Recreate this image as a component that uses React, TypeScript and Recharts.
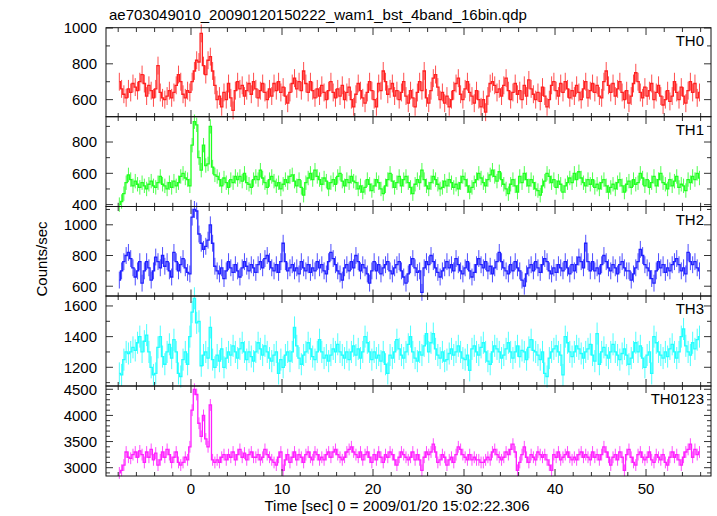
import React from 'react';
import { ComposedChart, Line, ErrorBar, XAxis, YAxis } from 'recharts';

const TITLE = 'ae703049010_20090120150222_wam1_bst_4band_16bin.qdp';
const X_LABEL = 'Time [sec] 0 = 2009/01/20 15:02:22.306';
const Y_LABEL = 'Counts/sec';

const BIN_START = -7.875;
const BIN_WIDTH = 0.25;
const X_DOMAIN = [-9.34, 57.14];
const X_TICKS = [-8, -6, -4, -2, 0, 2, 4, 6, 8, 10, 12, 14, 16, 18, 20, 22, 24, 26, 28, 30, 32, 34, 36, 38, 40, 42, 44, 46, 48, 50, 52, 54, 56];
const X_TICK_LABELS = [0, 10, 20, 30, 40, 50];

const PANEL_NAMES = ['TH0', 'TH1', 'TH2', 'TH3', 'TH0123'];
const PANEL_COLORS = ['#ff2020', '#20ff20', '#2020ff', '#20ffff', '#ff20ff'];
const PANEL_ERRORS = [50, 46, 55, 72, 113];

const TH0_DOMAIN = [503, 1000];
const TH1_DOMAIN = [386, 960];
const TH2_DOMAIN = [533, 1116];
const TH3_DOMAIN = [1078, 1665];
const TH0123_DOMAIN = [2841, 4563];

const TH0_TICKS = [600, 700, 800, 900, 1000];
const TH1_TICKS = [400, 500, 600, 700, 800, 900];
const TH2_TICKS = [600, 700, 800, 900, 1000, 1100];
const TH3_TICKS = [1100, 1200, 1300, 1400, 1500, 1600];
const TH0123_TICKS = [2900, 3000, 3100, 3200, 3300, 3400, 3500, 3600, 3700, 3800, 3900, 4000, 4100, 4200, 4300, 4400, 4500];

const TH0_LABELS = [600, 800, 1000];
const TH1_LABELS = [400, 600, 800];
const TH2_LABELS = [600, 800, 1000];
const TH3_LABELS = [1200, 1400, 1600];
const TH0123_LABELS = [3000, 3500, 4000, 4500];

const TH0 = [
  700, 660, 630, 610, 660, 640, 690, 670, 650, 700, 740, 690, 620, 680, 650, 610,
  660, 790, 640, 610, 600, 620, 650, 610, 640, 680, 740, 700, 630, 610, 650, 640,
  700, 760, 820, 810, 970, 790, 740, 820, 840, 760, 680, 600, 620, 560, 640, 600,
  690, 610, 540, 650, 700, 660, 680, 620, 650, 690, 630, 700, 660, 610, 650, 690,
  640, 600, 660, 620, 690, 650, 700, 640, 670, 620, 580, 640, 690, 720, 660, 700,
  650, 760, 690, 640, 700, 650, 610, 660, 620, 680, 640, 600, 650, 700, 640, 610,
  660, 620, 680, 600, 640, 670, 600, 560, 630, 690, 650, 610, 580, 640, 700, 650,
  600, 560, 690, 650, 760, 700, 630, 660, 690, 620, 650, 600, 640, 700, 620, 580,
  650, 610, 560, 640, 700, 650, 760, 610, 580, 650, 720, 740, 670, 600, 640, 580,
  620, 560, 600, 650, 690, 720, 630, 600, 660, 700, 640, 620, 580, 650, 600, 560,
  600, 530, 620, 690, 700, 680, 640, 660, 620, 680, 720, 650, 600, 640, 690, 630,
  650, 600, 680, 620, 710, 660, 630, 600, 640, 590, 670, 620, 560, 600, 680, 700,
  650, 620, 690, 640, 700, 660, 610, 650, 620, 680, 640, 600, 660, 700, 610, 650,
  690, 640, 680, 620, 610, 700, 760, 680, 640, 690, 620, 660, 700, 640, 600, 650,
  580, 620, 690, 750, 700, 640, 610, 670, 620, 650, 690, 600, 640, 680, 620, 570,
  600, 650, 590, 620, 700, 640, 600, 670, 620, 580, 650, 700, 640, 690, 610, 640,
];

const TH1 = [
  400, 420, 470, 540, 590, 560, 520, 550, 530, 510, 540, 520, 500, 530, 550, 520,
  510, 540, 580, 530, 520, 500, 540, 510, 550, 520, 540, 580, 600, 570, 560, 520,
  780, 930, 910, 700, 620, 780, 650, 660, 900, 640, 590, 580, 560, 520, 570, 540,
  510, 560, 540, 580, 560, 580, 550, 600, 540, 530, 510, 560, 580, 560, 620, 570,
  540, 510, 560, 580, 550, 520, 540, 500, 530, 560, 540, 580, 590, 550, 520, 560,
  510, 460, 540, 570, 600, 560, 620, 580, 560, 530, 570, 550, 500, 540, 560, 530,
  580, 600, 550, 520, 560, 540, 580, 550, 540, 500, 520, 480, 510, 560, 530, 490,
  520, 560, 540, 500, 470, 520, 560, 600, 550, 510, 540, 580, 520, 560, 580, 540,
  510, 470, 530, 560, 540, 620, 560, 520, 500, 540, 580, 560, 530, 500, 510, 550,
  520, 560, 540, 510, 530, 500, 540, 580, 560, 520, 480, 510, 540, 560, 600, 570,
  540, 520, 560, 590, 620, 580, 550, 610, 560, 530, 500, 470, 530, 560, 520, 480,
  580, 540, 600, 560, 520, 560, 540, 500, 490, 460, 520, 550, 600, 580, 540, 560,
  510, 550, 530, 480, 520, 540, 570, 540, 600, 560, 610, 570, 540, 520, 560, 530,
  560, 510, 530, 500, 540, 560, 520, 480, 510, 530, 500, 540, 560, 520, 480, 530,
  550, 510, 560, 530, 540, 600, 570, 520, 560, 510, 540, 580, 520, 560, 600, 540,
  530, 500, 560, 520, 550, 580, 510, 530, 520, 490, 560, 540, 580, 560, 600, 570,
];

const TH2 = [
  640, 700, 760, 800, 820, 780, 720, 660, 700, 760, 620, 700, 760, 720, 640, 700,
  790, 760, 720, 800, 730, 760, 700, 660, 820, 760, 700, 740, 780, 720, 690, 680,
  1050, 1100, 1090, 940, 880, 840, 860, 900, 1000, 880, 730, 700, 680, 720, 650, 700,
  760, 720, 690, 740, 700, 660, 720, 760, 730, 700, 740, 720, 690, 740, 760, 720,
  780, 800, 760, 720, 700, 740, 690, 760, 880, 760, 700, 720, 740, 700, 720, 680,
  760, 720, 700, 740, 690, 720, 700, 760, 720, 740, 700, 680, 760, 820, 780, 740,
  700, 680, 640, 720, 740, 700, 760, 720, 800, 760, 700, 740, 720, 680, 620, 700,
  760, 700, 740, 680, 720, 740, 760, 700, 680, 720, 740, 760, 700, 660, 620, 680,
  740, 780, 720, 690, 700, 560, 720, 760, 740, 800, 760, 720, 690, 660, 700, 720,
  760, 720, 740, 700, 780, 740, 700, 680, 720, 760, 700, 660, 690, 740, 780, 740,
  720, 760, 700, 730, 680, 720, 760, 820, 760, 720, 700, 680, 740, 700, 760, 720,
  700, 640, 600, 680, 720, 740, 700, 760, 720, 690, 740, 780, 760, 700, 680, 720,
  690, 740, 720, 700, 760, 720, 680, 740, 700, 740, 790, 760, 720, 880, 760, 700,
  760, 700, 720, 680, 740, 800, 760, 720, 700, 740, 720, 680, 740, 760, 720, 700,
  700, 640, 680, 720, 760, 840, 800, 740, 720, 700, 650, 620, 700, 760, 720, 740,
  690, 720, 700, 740, 760, 780, 740, 700, 720, 680, 820, 760, 740, 760, 720, 700,
];

const TH3 = [
  1160, 1150, 1250, 1300, 1290, 1300, 1330, 1310, 1360, 1400, 1300, 1370, 1410, 1300, 1200, 1150,
  1160, 1330, 1400, 1270, 1220, 1300, 1350, 1260, 1380, 1300, 1160, 1140, 1250, 1300, 1220, 1400,
  1560, 1650, 1490, 1500, 1210, 1280, 1300, 1260, 1460, 1250, 1200, 1280, 1240, 1320, 1200, 1260,
  1300, 1280, 1340, 1300, 1260, 1320, 1360, 1300, 1250, 1300, 1270, 1240, 1300, 1360, 1320, 1280,
  1340, 1300, 1260, 1240, 1280, 1300, 1160, 1250, 1200, 1280, 1300, 1240, 1300, 1460, 1340, 1260,
  1220, 1280, 1300, 1360, 1320, 1270, 1250, 1300, 1380, 1300, 1260, 1280, 1240, 1280, 1320, 1300,
  1350, 1300, 1280, 1260, 1300, 1250, 1300, 1340, 1280, 1320, 1260, 1300, 1400, 1360, 1300, 1250,
  1300, 1260, 1280, 1240, 1300, 1220, 1160, 1280, 1260, 1300, 1380, 1320, 1280, 1260, 1300, 1350,
  1400, 1300, 1260, 1240, 1300, 1280, 1340, 1420, 1300, 1360, 1420, 1320, 1280, 1260, 1300, 1240,
  1250, 1290, 1320, 1280, 1300, 1340, 1300, 1260, 1250, 1280, 1180, 1320, 1340, 1300, 1280, 1330,
  1360, 1300, 1240, 1220, 1300, 1340, 1320, 1300, 1260, 1280, 1320, 1360, 1300, 1260, 1300, 1340,
  1270, 1310, 1300, 1250, 1330, 1380, 1310, 1300, 1280, 1250, 1300, 1160, 1140, 1260, 1300, 1320,
  1340, 1300, 1280, 1150, 1400, 1360, 1300, 1270, 1300, 1340, 1320, 1290, 1260, 1300, 1320, 1350,
  1280, 1240, 1420, 1220, 1300, 1330, 1280, 1260, 1300, 1350, 1300, 1280, 1250, 1290, 1320, 1280,
  1220, 1260, 1300, 1360, 1300, 1340, 1260, 1200, 1280, 1300, 1160, 1400, 1360, 1300, 1280, 1260,
  1300, 1270, 1320, 1350, 1300, 1260, 1300, 1400, 1450, 1340, 1300, 1280, 1360, 1320, 1380, 1400,
];

const TH0123 = [
  2900, 2950, 3050, 3300, 3200, 3180, 3250, 3300, 3200, 3320, 3250, 3100, 3300, 3200, 3350, 3150,
  3280, 3050, 3150, 3300, 3200, 3350, 3250, 3100, 3200, 3300, 3100, 3050, 3100, 3200, 3150, 3400,
  4100, 4500, 4400, 3850, 3600, 4000, 3550, 3400, 4200, 3150, 3100, 3150, 3100, 3200, 3250, 3150,
  3250, 3200, 3300, 3150, 3250, 3350, 3200, 3280, 3150, 3250, 3300, 3200, 3200, 3250, 3150, 3200,
  3350, 3250, 3200, 3150, 3100, 3050, 3200, 3300, 2950, 3150, 3250, 3100, 3200, 3300, 3150, 3250,
  3200, 3100, 3250, 3300, 3200, 3150, 3300, 3250, 3150, 3200, 3150, 3250, 3300, 3200, 3300, 3350,
  3250, 3200, 3150, 3200, 3300, 3350, 3400, 3300, 3250, 3200, 3300, 3150, 3250, 3300, 3200, 3100,
  3250, 3150, 3300, 3200, 3100, 3250, 3200, 3300, 3250, 3150, 3050, 3200, 3300, 3250, 3200, 3150,
  3200, 3300, 3150, 3250, 3150, 2950, 3200, 3300, 3250, 3300, 3450, 3300, 3100, 3150, 3250, 3200,
  3050, 3150, 3200, 3100, 3250, 3400, 3350, 3250, 3200, 3150, 3250, 3150, 3200, 3150, 3150, 3100,
  3100, 3150, 3200, 3150, 3300, 3350, 3250, 3200, 3150, 3200, 3300, 3250, 3350, 3450, 3300, 2950,
  3100, 3250, 3400, 3200, 3100, 3250, 3200, 3150, 3300, 3250, 3200, 3250, 3150, 3050, 2950, 3250,
  3200, 3300, 3150, 3200, 3250, 3300, 3200, 3150, 3200, 3150, 3250, 3300, 3200, 3250, 3200, 3150,
  3300, 3200, 3250, 3150, 3250, 3400, 3300, 3200, 3050, 3200, 3250, 3150, 3300, 3200, 2950, 3250,
  3350, 3200, 3100, 3050, 3250, 3300, 3200, 3150, 3200, 3300, 3150, 3100, 3250, 3200, 3150, 3250,
  3100, 3050, 3200, 3300, 3200, 3250, 3150, 3050, 3200, 3300, 3350, 3450, 3200, 3350, 3250, 3300,
];

const SERIES = [TH0, TH1, TH2, TH3, TH0123];
const DOMAINS = [TH0_DOMAIN, TH1_DOMAIN, TH2_DOMAIN, TH3_DOMAIN, TH0123_DOMAIN];
const Y_TICKS = [TH0_TICKS, TH1_TICKS, TH2_TICKS, TH3_TICKS, TH0123_TICKS];
const Y_LABELS = [TH0_LABELS, TH1_LABELS, TH2_LABELS, TH3_LABELS, TH0123_LABELS];

// layout
const W = 717;
const H = 516;
const PLOT_LEFT = 106;
const PLOT_RIGHT = 711;
const PANEL_EDGES = [27.7, 116.7, 206.5, 296, 386, 476];
const PAD = 12;
const BOTTOM_EXTRA = 30;
const Y_AXIS_W = 60;
const FONT = '"Liberation Sans", Arial, Helvetica, sans-serif';
const FRAME = '#111';
const TICK = '#333';
const MAJOR = 7;
const MINOR = 4;

function Panel({ idx }: { idx: number }) {
  const top = PANEL_EDGES[idx];
  const bottom = PANEL_EDGES[idx + 1];
  const ph = bottom - top;
  const last = idx === SERIES.length - 1;
  const chartH = ph + PAD * 2 + (last ? BOTTOM_EXTRA : 0);
  const plotTop = PAD;
  const plotBottom = PAD + ph;
  const color = PANEL_COLORS[idx];
  const err = PANEL_ERRORS[idx];
  const data = SERIES[idx].map((v, i) => ({ t: BIN_START + i * BIN_WIDTH, v, e: err }));
  const labels = Y_LABELS[idx];

  const xBottomTick = (p: any) => {
    const val = p.payload.value;
    const major = X_TICK_LABELS.includes(val);
    const len = major ? MAJOR : MINOR;
    const x = p.payload.coordinate ?? p.x;
    return (
      <g>
        <path d={`M${x},${plotBottom}V${plotBottom - len}`} stroke={TICK} strokeWidth={1} fill="none" />
        {last && major ? (
          <text x={x} y={plotBottom + 18} textAnchor="middle" fontSize={15} fontFamily={FONT} fill="#000">
            {val}
          </text>
        ) : null}
      </g>
    );
  };
  const xTopTick = (p: any) => {
    const val = p.payload.value;
    const len = X_TICK_LABELS.includes(val) ? MAJOR : MINOR;
    const x = p.payload.coordinate ?? p.x;
    return <path d={`M${x},${plotTop}V${plotTop + len}`} stroke={TICK} strokeWidth={1} fill="none" />;
  };
  const yLeftTick = (p: any) => {
    const val = p.payload.value;
    const major = labels.includes(val);
    const len = major ? MAJOR : MINOR;
    const y = p.payload.coordinate ?? p.y;
    return (
      <g>
        <path d={`M${PLOT_LEFT},${y}H${PLOT_LEFT + len}`} stroke={TICK} strokeWidth={1} fill="none" />
        {major ? (
          <text x={PLOT_LEFT - 9} y={y} dy="0.36em" textAnchor="end" fontSize={15} fontFamily={FONT} fill="#000">
            {val}
          </text>
        ) : null}
      </g>
    );
  };
  const yRightTick = (p: any) => {
    const val = p.payload.value;
    const len = labels.includes(val) ? MAJOR : MINOR;
    const y = p.payload.coordinate ?? p.y;
    return <path d={`M${PLOT_RIGHT},${y}H${PLOT_RIGHT - len}`} stroke={TICK} strokeWidth={1} fill="none" />;
  };

  return (
    <div style={{ position: 'absolute', left: 0, top: top - PAD, width: W, height: chartH }}>
      <ComposedChart
        width={W}
        height={chartH}
        data={data}
        margin={{ top: PAD - 1, right: W - PLOT_RIGHT - 1, bottom: PAD - 1 + (last ? BOTTOM_EXTRA : 0), left: PLOT_LEFT - Y_AXIS_W }}
      >
        <XAxis
          xAxisId="b"
          dataKey="t"
          type="number"
          domain={X_DOMAIN}
          allowDataOverflow
          ticks={X_TICKS}
          interval={0}
          height={1}
          orientation="bottom"
          axisLine={false}
          tickLine={false}
          tick={xBottomTick}
        />
        <XAxis
          xAxisId="t"
          dataKey="t"
          type="number"
          domain={X_DOMAIN}
          allowDataOverflow
          ticks={X_TICKS}
          interval={0}
          height={1}
          orientation="top"
          axisLine={false}
          tickLine={false}
          tick={xTopTick}
        />
        <YAxis
          yAxisId="l"
          type="number"
          domain={DOMAINS[idx]}
          allowDataOverflow
          ticks={Y_TICKS[idx]}
          interval={0}
          width={Y_AXIS_W}
          orientation="left"
          axisLine={false}
          tickLine={false}
          tick={yLeftTick}
        />
        <YAxis
          yAxisId="r"
          type="number"
          domain={DOMAINS[idx]}
          allowDataOverflow
          ticks={Y_TICKS[idx]}
          interval={0}
          width={1}
          orientation="right"
          axisLine={false}
          tickLine={false}
          tick={yRightTick}
        />
        <Line
          xAxisId="b"
          yAxisId="l"
          dataKey="v"
          type="step"
          stroke={color}
          strokeWidth={1.3}
          dot={false}
          activeDot={false}
          isAnimationActive={false}
        >
          <ErrorBar dataKey="e" width={0} stroke={color} strokeWidth={1} strokeOpacity={0.8} direction="y" />
        </Line>
      </ComposedChart>
    </div>
  );
}

export default function App() {
  return (
    <div style={{ position: 'absolute', left: 0, top: 0, width: W, height: H, background: '#fff' }}>
      {SERIES.map((_, i) => (
        <Panel key={i} idx={i} />
      ))}
      <svg width={W} height={H} style={{ position: 'absolute', left: 0, top: 0, pointerEvents: 'none' }}>
        {PANEL_NAMES.map((n, i) => (
          <rect
            key={'f' + n}
            x={PLOT_LEFT}
            y={PANEL_EDGES[i]}
            width={PLOT_RIGHT - PLOT_LEFT}
            height={PANEL_EDGES[i + 1] - PANEL_EDGES[i]}
            fill="none"
            stroke={FRAME}
            strokeWidth={1}
          />
        ))}
        <text x={109} y={20} fontSize={15} fontFamily={FONT} fill="#000">
          {TITLE}
        </text>
        {PANEL_NAMES.map((n, i) => (
          <text key={n} x={704} y={PANEL_EDGES[i] + 18} textAnchor="end" fontSize={15} fontFamily={FONT} fill="#000">
            {n}
          </text>
        ))}
        <text x={397} y={511} textAnchor="middle" fontSize={15} fontFamily={FONT} fill="#000">
          {X_LABEL}
        </text>
        <text
          x={0}
          y={0}
          transform={`translate(47, 259) rotate(-90)`}
          textAnchor="middle"
          fontSize={15}
          fontFamily={FONT}
          fill="#000"
        >
          {Y_LABEL}
        </text>
      </svg>
    </div>
  );
}
